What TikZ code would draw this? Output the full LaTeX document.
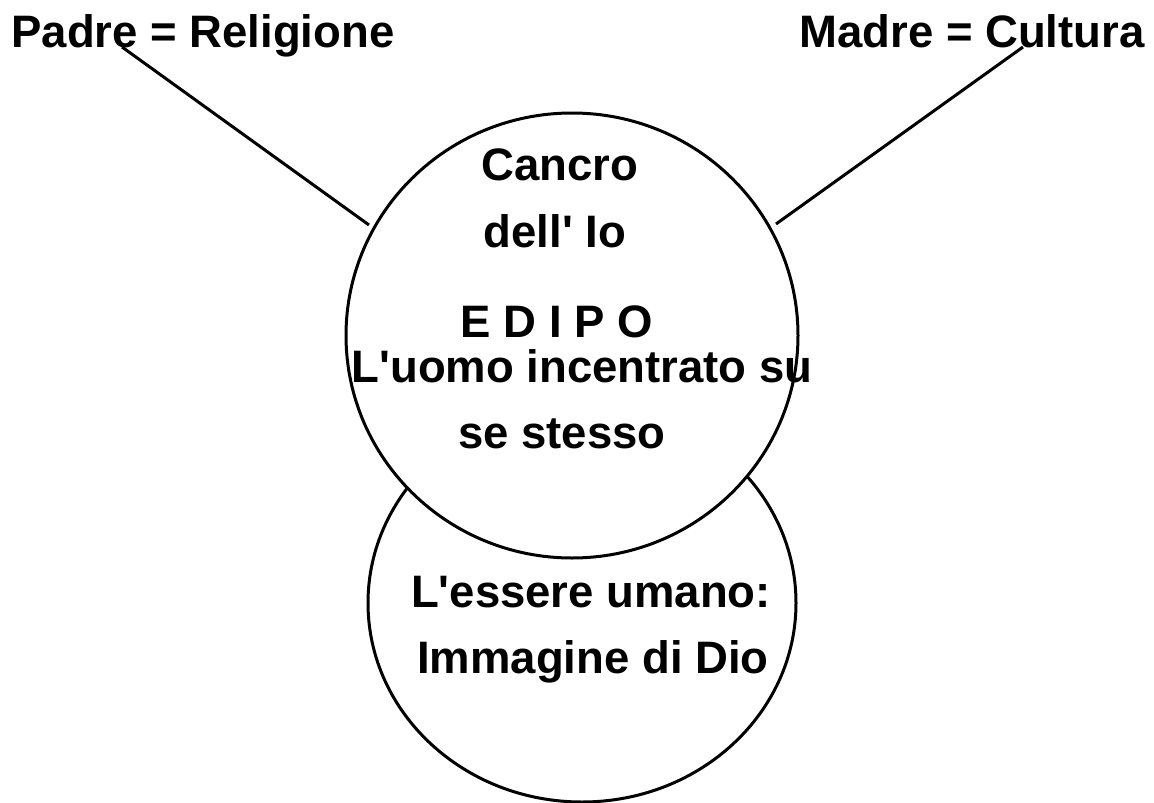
\documentclass[tikz,border=0pt]{standalone}
\usepackage{fontspec}
\newfontfamily\labfont{Liberation Sans}
\usetikzlibrary{shapes.geometric}
\tikzset{
  lab/.style={font=\labfont\bfseries\fontsize{45.5}{50}\selectfont, anchor=base, inner sep=0pt},
  bolla/.style={ellipse, draw=black, fill=white, line width=3pt, inner sep=0pt}
}

\begin{document}
\begin{tikzpicture}[x=1pt,y=-1pt]
  \useasboundingbox (0,0) rectangle (1154,803);
  % cerchi
  \node[bolla, minimum width=428pt, minimum height=398pt] (umano) at (582,603) {};
  \node[bolla, minimum width=452pt, minimum height=445pt] (edipo) at (572,335.5) {};
  % etichette in alto
  \node[lab] (padre) at (203,47) {Padre = Religione};
  \node[lab] (madre) at (972,47) {Madre = Cultura};
  \coordinate (padreA) at (122,47);
  \coordinate (padreB) at (369,225);
  \coordinate (madreA) at (1023,47);
  \coordinate (madreB) at (776,224);
  \draw[black, line width=3pt] (padreA) -- (padreB);
  \draw[black, line width=3pt] (madreA) -- (madreB);
  % testi nel cerchio
  \node[lab] (cancro) at (560,180) {Cancro};
  \node[lab] (io) at (555,247) {dell' Io};
  \node[lab] (nome) at (557,337) {E D I P O};
  \node[lab] (uomo) at (582,382) {L'uomo incentrato su};
  \node[lab] (stesso) at (562,448) {se stesso};
  \node[lab] (essere) at (591,607) {L'essere umano:};
  \node[lab] (dio) at (593,673) {Immagine di Dio};
\end{tikzpicture}
\end{document}
